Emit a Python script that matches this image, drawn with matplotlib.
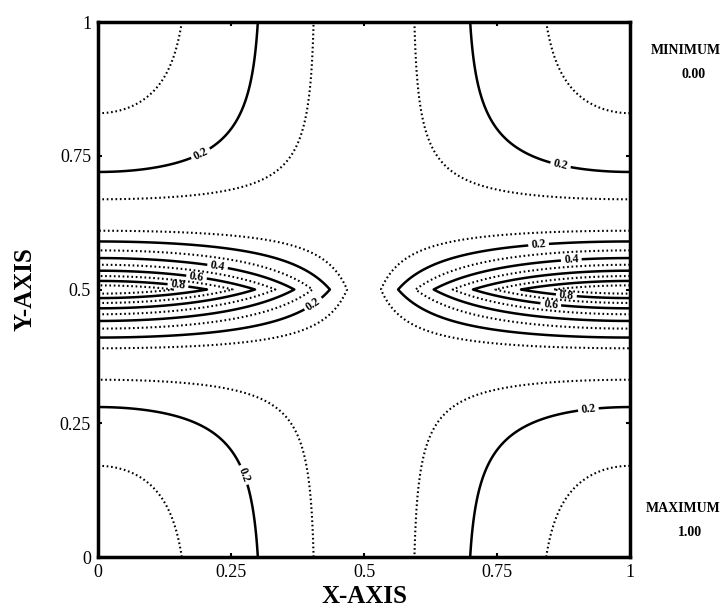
import numpy as np
import matplotlib
matplotlib.use('Agg')
import matplotlib.pyplot as plt

# field model: |cos(pi x) * h(y)|
# h = (1 + offset) * exp(-|y - 0.5| / width) - offset
peak_y = 0.5
peak_width = 0.1
corner_offset = 0.35

solid_levels = [0.2, 0.4, 0.6, 0.8]
dotted_levels = [0.1, 0.3, 0.5, 0.7, 0.9]

# contour label spots (level, x, y)
label_levels = [0.2, 0.2, 0.2, 0.2, 0.2, 0.2, 0.4, 0.4, 0.6, 0.6, 0.8, 0.8]
label_x = [0.19, 0.875, 0.41, 0.83, 0.265, 0.925, 0.225, 0.89, 0.185, 0.85, 0.15, 0.88]
label_y = [0.76, 0.757, 0.465, 0.56, 0.15, 0.247, 0.545, 0.55, 0.522, 0.462, 0.505, 0.485]

ticks = [0, 0.25, 0.5, 0.75, 1]
tick_labels = ['0', '0.25', '0.5', '0.75', '1']

plt.rcParams['font.family'] = ['Liberation Serif', 'DejaVu Serif']

x = np.linspace(0, 1, 801)
y = np.linspace(0, 1, 801)
X, Y = np.meshgrid(x, y)
h = (1 + corner_offset) * np.exp(-np.abs(Y - peak_y) / peak_width) - corner_offset
Z = np.abs(np.cos(np.pi * X) * h)

fig = plt.figure(figsize=(7.28, 6.15), dpi=100)
ax = fig.add_axes([0.1346, 0.0943, 0.7308, 0.8699])

cs_dot = ax.contour(X, Y, Z, levels=dotted_levels, colors='black', linewidths=1.5)
cs_dot.set_linestyle((0, (0.8, 1.3)))

#one contour set per solid level, so each label snaps to its own line
for lev in solid_levels:
    cs = ax.contour(X, Y, Z, levels=[lev], colors='black', linewidths=1.8)
    pos = [(lx, ly) for l, lx, ly in zip(label_levels, label_x, label_y) if l == lev]
    if pos:
        ax.clabel(cs, manual=pos, fmt='%.1f', inline=True,
                  inline_spacing=3, fontsize=8.5, colors='black')
for t in ax.texts:
    t.set_fontweight('bold')

ax.set_xlim(0, 1)
ax.set_ylim(0, 1)
ax.set_xticks(ticks)
ax.set_xticklabels(tick_labels)
ax.set_yticks(ticks)
ax.set_yticklabels(tick_labels)
ax.tick_params(direction='in', length=3, width=1.5, top=True, right=True, labelsize=13, pad=5)
for s in ax.spines.values():
    s.set_linewidth(2.5)

ax.set_xlabel('X-AXIS', fontsize=18, fontweight='bold', labelpad=3)
ax.set_ylabel('Y-AXIS', fontsize=18, fontweight='bold', labelpad=17)

fig.text(686 / 728, 1 - 51 / 615, 'MINIMUM', ha='center', va='center', fontsize=10, fontweight='bold')
fig.text(694 / 728, 1 - 74 / 615, '0.00', ha='center', va='center', fontsize=10, fontweight='bold')
fig.text(683 / 728, 1 - 508 / 615, 'MAXIMUM', ha='center', va='center', fontsize=10, fontweight='bold')
fig.text(690 / 728, 1 - 532 / 615, '1.00', ha='center', va='center', fontsize=10, fontweight='bold')

fig.savefig('out.png', dpi=100)
